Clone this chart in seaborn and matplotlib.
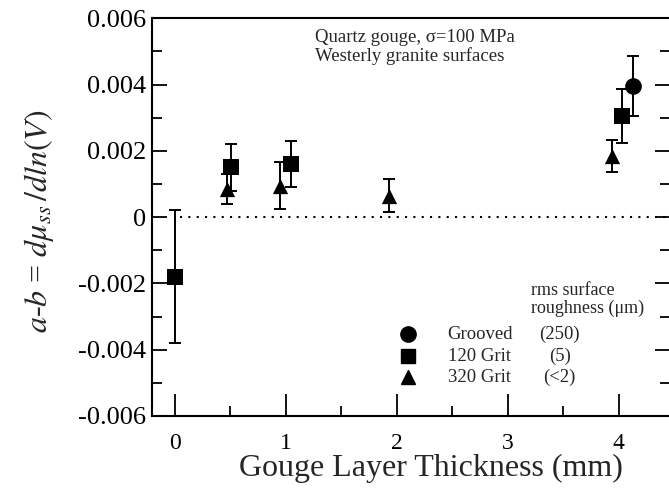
import numpy as np
import pandas as pd
import matplotlib
matplotlib.use('Agg')
import matplotlib.pyplot as plt
from matplotlib.ticker import MultipleLocator
import seaborn as sns

# values
grooved_x = [4.13]
grooved_y = [0.00395]
grooved_err = [0.0009]

grit120_x = [0.0, 0.51, 1.05, 4.03]
grit120_y = [-0.0018, 0.0015, 0.0016, 0.00305]
grit120_err = [0.0020, 0.0007, 0.0007, 0.0008]

grit320_x = [0.47, 0.95, 1.93, 3.94]
grit320_y = [0.00085, 0.00095, 0.00065, 0.00185]
grit320_err = [0.00045, 0.0007, 0.0005, 0.00048]

surface_names = ['Grooved', '120 Grit', '320 Grit']
roughness = ['(250)', '(5)', '(<2)']

df = pd.concat([
    pd.DataFrame({'x': grooved_x, 'y': grooved_y, 'err': grooved_err, 'surface': 'Grooved'}),
    pd.DataFrame({'x': grit120_x, 'y': grit120_y, 'err': grit120_err, 'surface': '120 Grit'}),
    pd.DataFrame({'x': grit320_x, 'y': grit320_y, 'err': grit320_err, 'surface': '320 Grit'}),
], ignore_index=True)

sns.set_style('ticks')
plt.rcParams['font.family'] = ['Liberation Serif', 'DejaVu Serif']
plt.rcParams['mathtext.fontset'] = 'stix'

fig = plt.figure(figsize=(6.69, 4.92), dpi=100)
ax = fig.add_axes([0.227, 0.1545, 0.7745, 0.8085])

markers = {'Grooved': 'o', '120 Grit': 's', '320 Grit': '^'}
sizes = {'Grooved': 12, '120 Grit': 11, '320 Grit': 11}

for name, grp in df.groupby('surface'):
    ax.errorbar(grp['x'], grp['y'], yerr=grp['err'], fmt='none', ecolor='black',
                elinewidth=1.4, capsize=4, capthick=1.4, zorder=2)
    sns.scatterplot(x=grp['x'], y=grp['y'], marker=markers[name], color='black',
                    s=sizes[name] ** 2, linewidth=0, zorder=3, ax=ax)

ax.axhline(0, xmin=0.054, xmax=1, color='black', lw=1.5, ls=(0, (1, 3)), zorder=1)

ax.set_xlim(-0.207, 4.46)
ax.set_ylim(-0.006, 0.006)
ax.set_yticks([-0.006, -0.004, -0.002, 0, 0.002, 0.004, 0.006])
ax.set_yticklabels(['-0.006', '-0.004', '-0.002', '0', '0.002', '0.004', '0.006'])
ax.set_xticks([0, 1, 2, 3, 4])
ax.xaxis.set_minor_locator(MultipleLocator(0.5))
ax.yaxis.set_minor_locator(MultipleLocator(0.001))
ax.tick_params(which='both', direction='in', right=True, top=False, width=1.3, colors='black')
ax.tick_params(axis='y', which='major', length=11, labelsize=19, pad=4)
ax.tick_params(axis='y', which='minor', length=7)
ax.tick_params(axis='x', which='major', length=16, labelsize=17, pad=12)
ax.tick_params(axis='x', which='minor', length=7)
for s in ax.spines.values():
    s.set_linewidth(1.5)
    s.set_color('black')

ax.set_xlabel('Gouge Layer Thickness (mm)', fontsize=23)
ax.xaxis.set_label_coords(0.538, -0.095)
ax.set_ylabel(r'$a$-$b$ = $d\mu_{ss}\,/dln(V)$', fontsize=23)
ax.yaxis.set_label_coords(-0.185, 0.49)

ax.text(0.314, 0.972, 'Quartz gouge, σ=100 MPa\nWesterly granite surfaces',
        transform=ax.transAxes, ha='left', va='top', fontsize=13.5, linespacing=1.05)

# legend drawn by hand
ax.text(0.731, 0.294, 'rms surface\nroughness (μm)', transform=ax.transAxes,
        ha='left', va='center', fontsize=13, linespacing=1.05)
row_y = [0.206, 0.150, 0.098]
for name, rough, yy in zip(surface_names, roughness, row_y):
    ax.plot([0.495], [yy], transform=ax.transAxes, marker=markers[name], color='black',
            markersize=sizes[name] - 1, ls='none', clip_on=False)
    ax.text(0.571, yy, name, transform=ax.transAxes, ha='left', va='center', fontsize=13.5)
    ax.text(0.787, yy, rough, transform=ax.transAxes, ha='center', va='center', fontsize=13.5)

fig.savefig('out.png', dpi=100)
